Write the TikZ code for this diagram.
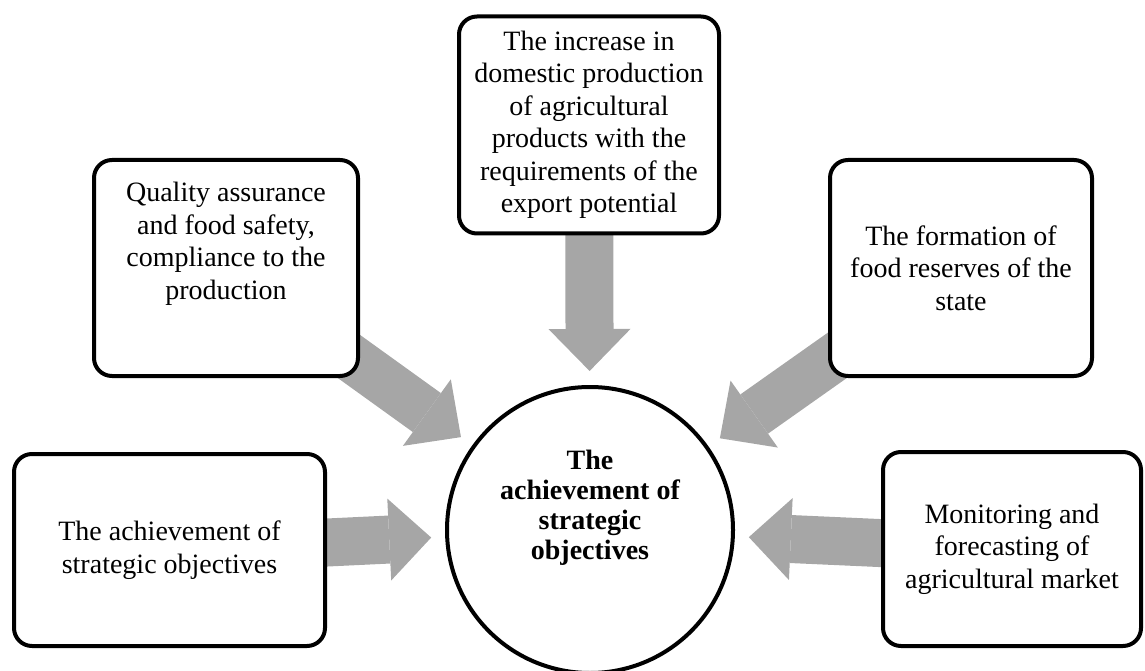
\documentclass[tikz,border=0pt]{standalone}
\usepackage{fontspec}
\setmainfont{Liberation Serif}
\usetikzlibrary{arrows.meta,backgrounds}
\definecolor{arrowgray}{RGB}{166,166,166}

\begin{document}
\begin{tikzpicture}[x=1pt,y=1pt,
  box/.style={draw,fill=white,line width=4pt,rounded corners=18pt,align=center,
    font=\fontsize{28}{32.5}\selectfont},
  boxtext/.style={align=center,font=\fontsize{28}{32.5}\selectfont},
  feed/.style={draw=arrowgray,line width=48pt,
    -{Triangle[length=42pt,width=82pt,line width=0pt]},shorten >=14pt}]
\useasboundingbox (0,0) rectangle (1145,670);

% centre
\node[draw,circle,fill=white,line width=4pt,minimum size=286pt] (hub) at (590,140) {};
\node[boxtext,font=\fontsize{28}{30}\selectfont\bfseries] (hubtext) at (590,162)
  {The\\achievement of\\strategic\\objectives};

% top
\node[box,minimum width=260pt,minimum height=217pt] (prod) at (589,545)
  {The increase in\\domestic production\\of agricultural\\products with the\\requirements of the\\export potential};

% left
\node[box,minimum width=264pt,minimum height=216pt] (qual) at (226,402) {};
\node[boxtext] (qualtext) at (226,426)
  {Quality assurance\\and food safety,\\compliance to the\\production};
\node[box,minimum width=311pt,minimum height=192pt] (goal) at (169.5,120)
  {The achievement of\\strategic objectives};

% right
\node[box,minimum width=262pt,minimum height=216pt] (stock) at (961,402)
  {The formation of\\food reserves of the\\state};
\node[box,minimum width=258pt,minimum height=194pt] (market) at (1012,121)
  {Monitoring and\\forecasting of\\agricultural market};

% arrows into the centre
\begin{scope}[on background layer]
\draw[feed] (prod.center) -- (hub);
\draw[feed] (qual.center) -- (hub);
\draw[feed] (stock.center) -- (hub);
\draw[feed] (goal.center) -- (hub);
\draw[feed] (market.center) -- (hub);
\end{scope}
\end{tikzpicture}
\end{document}
